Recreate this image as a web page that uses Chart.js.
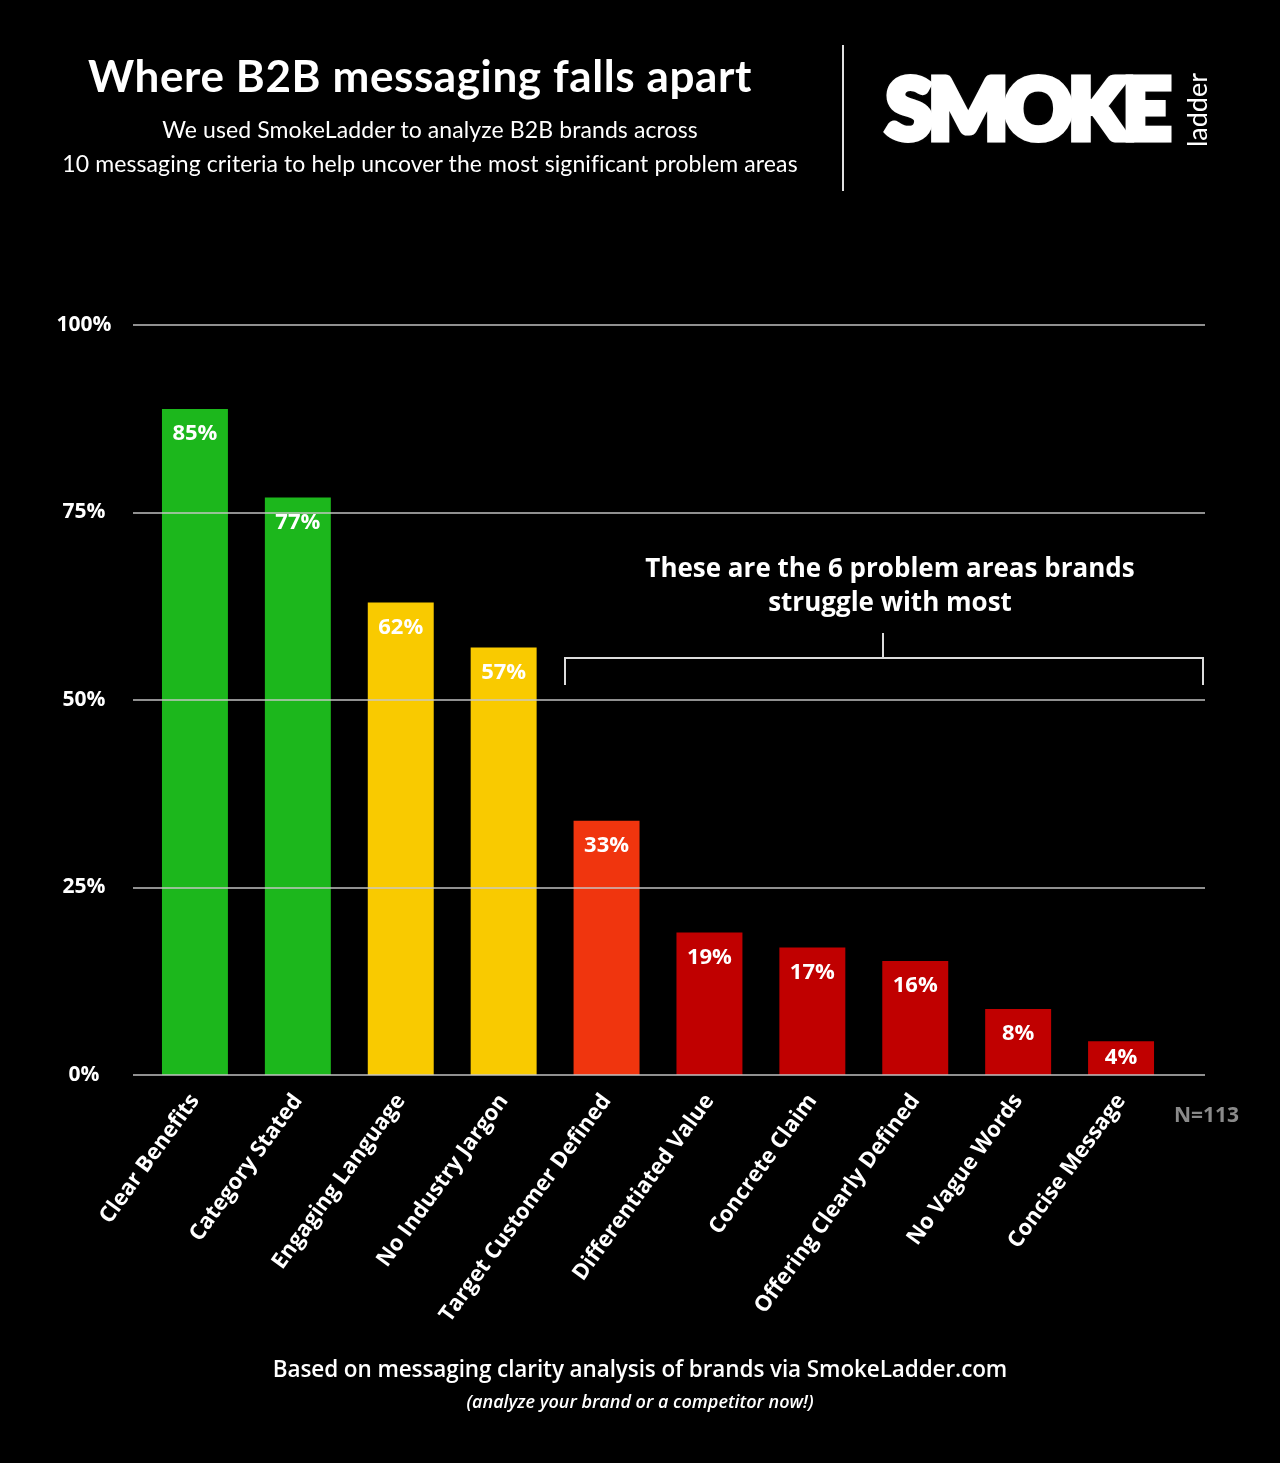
<!DOCTYPE html>
<html><head><meta charset="utf-8">
<script src="https://cdn.jsdelivr.net/npm/chart.js@4/dist/chart.umd.min.js"></script>
<style>
html,body{margin:0;padding:0;background:#000;width:1280px;height:1463px;overflow:hidden;}
#wrap{position:relative;width:1280px;height:1463px;background:#000;}
canvas{position:absolute;left:0;top:0;}
.t{position:absolute;color:#fff;white-space:nowrap;}
.c{transform:translateX(-50%);text-align:center;}
</style></head><body>
<div id="wrap">
<canvas id="c" width="1280" height="1463"></canvas>

<div class="t c" style="left:420px;top:48px;font:700 44px 'Lato';letter-spacing:0.6px;line-height:54px;">Where B2B messaging falls apart</div>
<div class="t c" style="left:430px;top:112px;font:400 23px 'Lato';line-height:34px;letter-spacing:0.1px;">We used SmokeLadder to analyze B2B brands across<br>10 messaging criteria to help uncover the most significant problem areas</div>

<div style="position:absolute;left:842px;top:45px;width:2px;height:146px;background:#e0e0e0;"></div>

<div class="t" style="left:886px;top:52px;font:900 84px 'Lato';letter-spacing:-4px;line-height:110px;-webkit-text-stroke:7px #fff;text-shadow:0 0 4px #ddd,2px 2px 0 #bbb;">SMOKE</div>
<div class="t" style="left:1196px;top:110px;font:400 27px 'Lato';line-height:27px;transform:translate(-50%,-50%) rotate(-90deg);">ladder</div>

<div class="t c" style="left:890px;top:550px;font:700 26px 'Open Sans';line-height:34px;">These are the 6 problem areas brands<br>struggle with most</div>
<div style="position:absolute;left:564px;top:657px;width:636px;height:26px;border:2px solid #dcdcdc;border-bottom:none;"></div>
<div style="position:absolute;left:882px;top:633px;width:2px;height:25px;background:#dcdcdc;"></div>

<div class="t" style="left:1174px;top:1099px;font:700 21px 'Open Sans';color:#8a8a8a;line-height:30px;">N=113</div>

<div class="t c" style="left:640px;top:1353px;font:600 22.5px 'Open Sans';line-height:32px;letter-spacing:-0.1px;">Based on messaging clarity analysis of brands via SmokeLadder.com</div>
<div class="t c" style="left:640px;top:1388px;font:italic 600 18px 'Open Sans';line-height:26px;">(analyze your brand or a competitor now!)</div>
</div>

<script>
const categories = ["Clear Benefits","Category Stated","Engaging Language","No Industry Jargon","Target Customer Defined","Differentiated Value","Concrete Claim","Offering Clearly Defined","No Vague Words","Concise Message"];
const barValues = [88.8, 77, 63, 57, 33.9, 19, 17, 15.2, 8.8, 4.5];
const valueLabels = ["85%","77%","62%","57%","33%","19%","17%","16%","8%","4%"];
const yTickValues = [0, 25, 50, 75, 100];

const GREEN = "#1cb71c", YELLOW = "#f9ca00", ORANGE = "#f0350e", RED = "#c00000";
const barColors = [GREEN, GREEN, YELLOW, YELLOW, ORANGE, RED, RED, RED, RED, RED];

const overlay = {
  id: 'overlay',
  afterDatasetsDraw(chart) {
    const ctx = chart.ctx;
    const y = chart.scales.y;
    ctx.save();
    ctx.strokeStyle = 'rgba(200,200,200,0.72)';
    ctx.lineWidth = 2;
    yTickValues.forEach(v => {
      const py = Math.round(y.getPixelForValue(v));
      ctx.beginPath();
      ctx.moveTo(133, py);
      ctx.lineTo(1205, py);
      ctx.stroke();
    });
    const meta = chart.getDatasetMeta(0);
    ctx.fillStyle = '#fff';
    ctx.font = "700 22px 'Open Sans'";
    ctx.textAlign = 'center';
    ctx.textBaseline = 'middle';
    meta.data.forEach((bar, i) => {
      const top = bar.y, base = bar.base;
      const ly = Math.min(top + 25, (top + base) / 2);
      ctx.fillText(valueLabels[i], bar.x, ly);
    });
    ctx.restore();
  }
};

new Chart(document.getElementById('c'), {
  type: 'bar',
  data: {
    labels: categories,
    datasets: [{
      data: barValues,
      backgroundColor: barColors,
      borderWidth: 0,
      categoryPercentage: 1,
      barPercentage: 0.641
    }]
  },
  options: {
    responsive: false,
    devicePixelRatio: 1,
    animation: false,
    events: [],
    layout: { padding: { left: 0, right: 107.5, top: 325, bottom: 0 } },
    plugins: { legend: { display: false }, tooltip: { enabled: false } },
    scales: {
      y: {
        min: 0, max: 100,
        afterFit: s => { s.width = 143.5; },
        afterBuildTicks: s => { s.ticks = yTickValues.map(v => ({ value: v })); },
        grid: { display: false, drawTicks: false },
        border: { display: false },
        ticks: {
          color: '#fff',
          font: { family: 'Open Sans', weight: '700', size: 21 },
          padding: 32,
          crossAlign: 'center',
          callback: v => v + '%'
        }
      },
      x: {
        afterFit: s => { s.height = 388; },
        grid: { display: false, drawTicks: false },
        border: { display: false },
        ticks: {
          color: '#fff',
          font: { family: 'Open Sans', weight: '700', size: 22 },
          autoSkip: false,
          maxRotation: 54, minRotation: 54,
          padding: 14
        }
      }
    }
  },
  plugins: [overlay]
});
</script>
</body></html>
